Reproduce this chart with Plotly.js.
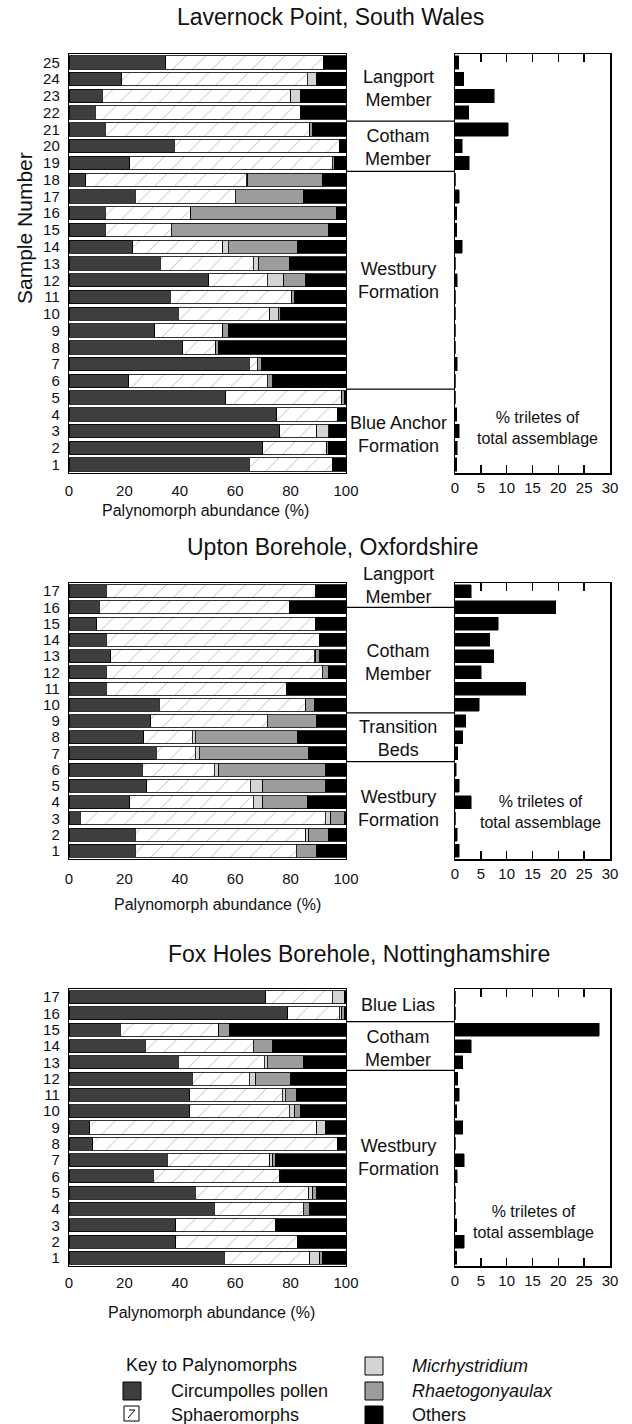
<!DOCTYPE html>
<html><head><meta charset="utf-8">
<script src="https://cdn.plot.ly/plotly-3.0.1.min.js"></script>
<style>html,body{margin:0;padding:0;background:#fff}#c{width:632px;height:1424px}</style>
</head><body><div id="c"></div>
<script>
// ---------- DATA (index 0 = sample 1) ----------
const categories = ["Circumpolles pollen","Sphaeromorphs","Micrhystridium","Rhaetogonyaulax","Others"];

// Lavernock Point, South Wales (samples 1-25)
const lavSamples = Array.from({length:25},(_,i)=>i+1);
const lavCirc   = [65,70,76,75,56.5,21.5,65,41,31,39.5,36.5,50.5,33,23,13,13,24,6,22,38,13,9.5,12,19,35];
const lavSph    = [30,23,13.5,22,42,50,3,12,24.5,33,44,21,33.5,32.5,24,31,36,58,73,59.5,74,74,68,67,57];
const lavMicr   = [0,0,4,0,0,0,0,0,0,3,0,6,2,2,0,0,0,0.5,0,0,0,0,3.5,3.5,0];
const lavRhaet  = [0,0.5,0.5,0,1,2,1.5,1,2,1,1,8,11,25,56.5,52.5,24.5,27,1,0,1,0,0,0,0];
const lavOthers = [5,6.5,6,3,0.5,26.5,30.5,46,42.5,23.5,18.5,14.5,20.5,17.5,6.5,3.5,15.5,8.5,4,2.5,12,16.5,16.5,10.5,8];
const lavTrilete= [0.3,0.4,0.8,0.3,0,0,0.4,0,0,0,0,0.4,0,1.4,0.3,0.3,0.8,0,2.8,1.4,10.3,2.7,7.6,1.7,0.7];

// Upton Borehole, Oxfordshire (samples 1-17)
const uptSamples = Array.from({length:17},(_,i)=>i+1);
const uptCirc   = [24,24,4,22,28,26.5,31.5,27,29.5,32.5,13.5,13.5,15,13.5,10,11,13.5];
const uptSph    = [58,61.5,88.5,44.5,37.5,26,14,17.5,42,53,65,78,73.5,77,79,68.5,75.5];
const uptMicr   = [0,1,2,3.5,4.5,1.5,1.5,1,0,0,0,0,0.5,0,0,0,0.5];
const uptRhaet  = [7.5,7,5,16,22.5,38.5,39.5,37,18,3,0,2,1.5,0,0.5,0,0];
const uptOthers = [10.5,6.5,0.5,14,7.5,7.5,13.5,17.5,10.5,11.5,21.5,6.5,9.5,9.5,10.5,20.5,10.5];
const uptTrilete= [0.8,0.4,0,3.1,0.8,0.2,0.5,1.5,2.1,4.7,13.7,5.1,7.5,6.7,8.4,19.5,3.1];

// Fox Holes Borehole, Nottinghamshire (samples 1-17)
const foxSamples = Array.from({length:17},(_,i)=>i+1);
const foxCirc   = [56,38.5,38.5,52.5,45.5,30.5,35.5,8.5,7.5,43.5,43.5,44.5,39.5,27.5,18.5,79,71];
const foxSph    = [31,44,36,32,41,45.5,37,88.5,82,36,33.5,20.5,31,39,35.5,18.5,24];
const foxMicr   = [3.5,0,0,0,1.5,0,1,0,3,2,1,2.5,1,0,0,1,4.5];
const foxRhaet  = [1,0,0,2.5,1.5,0.5,1,0,0,2,4,12.5,13,7,4,1,0];
const foxOthers = [8.5,17.5,25.5,13,10.5,23.5,25.5,3,7.5,16.5,18,20,15.5,26.5,42,0.5,0.5];
const foxTrilete= [0.3,1.8,0.3,0,0,0.4,1.8,0,1.5,0.3,0.8,0.5,1.5,3.1,27.9,0,0];

const lavUnits = [{t:"Langport<br>Member",y:88},{t:"Cotham<br>Member",y:148},{t:"Westbury<br>Formation",y:280},{t:"Blue Anchor<br>Formation",y:435}];
const lavBounds = [21.5,18.5,5.5];
const uptUnits = [{t:"Langport<br>Member",y:585},{t:"Cotham<br>Member",y:662},{t:"Transition<br>Beds",y:738},{t:"Westbury<br>Formation",y:808}];
const uptBounds = [16,9.5,6.5];
const foxUnits = [{t:"Blue Lias",y:1005},{t:"Cotham<br>Member",y:1048},{t:"Westbury<br>Formation",y:1157}];
const foxBounds = [15.5,12.5];

// ---------- STYLE ----------
const W=632,H=1424;
const px=x=>x/W, py=y=>1-y/H;
const FONT="Liberation Sans, Arial, Helvetica, sans-serif";
const colors = ["#3e3e3e","#ffffff","#d4d4d4","#9c9c9c","#000000"];
const edge = {color:"#000",width:0.8};

function stackTraces(xa,ya,samples,series){
  return series.map((vals,i)=>{
    const m = {color:colors[i], line:edge};
    if(i===1) m.pattern = {shape:"/", fgcolor:"#666", bgcolor:"#fff", size:14, solidity:0.06, fillmode:"overlay"};
    return {type:"bar",orientation:"h",x:vals,y:samples,name:categories[i],marker:m,
            xaxis:xa,yaxis:ya,hoverinfo:"skip",showlegend:false};
  });
}
function trileteTrace(xa,ya,samples,vals){
  return {type:"bar",orientation:"h",x:vals,y:samples,marker:{color:"#000",line:{color:"#000",width:0.5}},
          xaxis:xa,yaxis:ya,hoverinfo:"skip",showlegend:false};
}

const data = [
  ...stackTraces("x","y",lavSamples,[lavCirc,lavSph,lavMicr,lavRhaet,lavOthers]),
  trileteTrace("x2","y2",lavSamples,lavTrilete),
  ...stackTraces("x3","y3",uptSamples,[uptCirc,uptSph,uptMicr,uptRhaet,uptOthers]),
  trileteTrace("x4","y4",uptSamples,uptTrilete),
  ...stackTraces("x5","y5",foxSamples,[foxCirc,foxSph,foxMicr,foxRhaet,foxOthers]),
  trileteTrace("x6","y6",foxSamples,foxTrilete),
];

const barX = [px(69),px(346)], triX=[px(455),px(610)];
const rows = [[py(473),py(54)],[py(859),py(583)],[py(1266),py(989)]];
const tickFont = {family:FONT,size:15,color:"#111"};

function barXAxis(dom,anchor,tl){return {domain:dom,anchor:anchor,range:[0,100],tickvals:[0,20,40,60,80,100],
  showline:true,mirror:true,linecolor:"#000",linewidth:1.2,ticks:"outside",ticklen:tl,tickcolor:"rgba(0,0,0,0)",
  showgrid:false,zeroline:false,tickfont:tickFont,fixedrange:true};}
function barYAxis(dom,anchor,n){return {domain:dom,anchor:anchor,range:[0.5,n+0.5],tickvals:Array.from({length:n},(_,i)=>i+1),
  showline:true,mirror:true,linecolor:"#000",linewidth:1.2,ticks:"outside",ticklen:5,tickcolor:"rgba(0,0,0,0)",
  showgrid:false,zeroline:false,tickfont:tickFont,fixedrange:true};}
function triXAxis(dom,anchor){return {domain:dom,anchor:anchor,range:[0,30],dtick:5,
  showline:true,mirror:"ticks",linecolor:"#000",linewidth:1.5,ticks:"inside",ticklen:8,tickwidth:1.5,tickcolor:"#000",
  showgrid:false,zeroline:false,tickfont:tickFont,fixedrange:true};}
function triYAxis(dom,anchor,n){return {domain:dom,anchor:anchor,range:[0.5,n+0.5],showticklabels:false,ticks:"",
  showline:true,mirror:true,linecolor:"#000",linewidth:1.5,showgrid:false,zeroline:false,fixedrange:true};}

const annotations=[];
const shapes=[];
function txt(t,x,y,size,opts){annotations.push(Object.assign({text:t,x:px(x),y:py(y),xref:"paper",yref:"paper",
  showarrow:false,xanchor:"center",yanchor:"middle",font:{family:FONT,size:size,color:"#111"}},opts||{}));}

txt("Lavernock Point, South Wales",330,17,23);
txt("Upton Borehole, Oxfordshire",333,547,23);
txt("Fox Holes Borehole, Nottinghamshire",359,954,23);
txt("Sample Number",24,228,21,{textangle:-90});
txt("Palynomorph abundance (%)",205,510,16);
txt("Palynomorph abundance (%)",217,904,16);
txt("Palynomorph abundance (%)",211,1312,16);
txt("% triletes of<br>total assemblage",537,428,16);
txt("% triletes of<br>total assemblage",540,812,16);
txt("% triletes of<br>total assemblage",533,1222,16);
lavUnits.forEach(u=>txt(u.t,398,u.y,18));
uptUnits.forEach(u=>txt(u.t,398,u.y,18));
foxUnits.forEach(u=>txt(u.t,398,u.y,18));

function bounds(list,yref){list.forEach(b=>shapes.push({type:"line",xref:"paper",yref:yref,x0:px(346),x1:px(455),y0:b,y1:b,line:{color:"#000",width:1.2}}));}
bounds(lavBounds,"y"); bounds(uptBounds,"y3"); bounds(foxBounds,"y5");

// key
txt("Key to Palynomorphs",124,1365,18,{xanchor:"left"});
const keyItems=[
 {c:0,x:123,y:1382,lab:"Circumpolles pollen",italic:false},
 {c:1,x:124,y:1406,lab:"Sphaeromorphs",italic:false},
 {c:2,x:365,y:1357,lab:"Micrhystridium",italic:true},
 {c:3,x:365,y:1382,lab:"Rhaetogonyaulax",italic:true},
 {c:4,x:365,y:1406,lab:"Others",italic:false},
];
keyItems.forEach(k=>{
  const s = k.c===1?15:18;
  shapes.push({type:"rect",xref:"paper",yref:"paper",x0:px(k.x),x1:px(k.x+s),y0:py(k.y+s),y1:py(k.y),
    fillcolor:colors[k.c],line:{color:"#000",width:1}});
  if(k.c===1){shapes.push({type:"line",xref:"paper",yref:"paper",x0:px(k.x+4),x1:px(k.x+11),y0:py(k.y+12),y1:py(k.y+4),line:{color:"#000",width:1}});
              shapes.push({type:"line",xref:"paper",yref:"paper",x0:px(k.x+5),x1:px(k.x+11),y0:py(k.y+4),y1:py(k.y+4),line:{color:"#000",width:1}});}
  txt(k.italic?"<i>"+k.lab+"</i>":k.lab,(k.c<2?169:410),k.y+8.5,18,{xanchor:"left"});
});

const layout={width:W,height:H,margin:{l:0,r:0,t:0,b:0},paper_bgcolor:"#fff",plot_bgcolor:"#fff",
  barmode:"stack",bargap:0.2,showlegend:false,font:{family:FONT,color:"#111"},
  xaxis:barXAxis(barX,"y",4), yaxis:barYAxis(rows[0],"x",25),
  xaxis2:triXAxis(triX,"y2"), yaxis2:triYAxis(rows[0],"x2",25),
  xaxis3:barXAxis(barX,"y3",6), yaxis3:barYAxis(rows[1],"x3",17),
  xaxis4:triXAxis(triX,"y4"), yaxis4:triYAxis(rows[1],"x4",17),
  xaxis5:barXAxis(barX,"y5",3), yaxis5:barYAxis(rows[2],"x5",17),
  xaxis6:triXAxis(triX,"y6"), yaxis6:triYAxis(rows[2],"x6",17),
  annotations:annotations, shapes:shapes};
Plotly.newPlot("c",data,layout,{staticPlot:true,displayModeBar:false});
</script></body></html>
